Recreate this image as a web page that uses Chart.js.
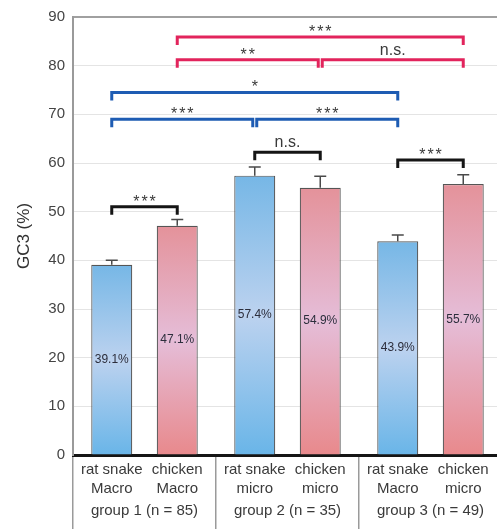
<!DOCTYPE html>
<html>
<head>
<meta charset="utf-8">
<script src="https://cdn.jsdelivr.net/npm/chart.js@4.4.1/dist/chart.umd.min.js"></script>
<style>
  body { margin: 0; background: #fff; }
  #wrap { width: 497px; height: 529px; overflow: hidden; }
</style>
</head>
<body>
<div id="wrap"><canvas id="chart" width="502" height="529"></canvas></div>
<script>
// data
const groups = ['group 1 (n = 85)', 'group 2 (n = 35)', 'group 3 (n = 49)'];
const species = ['rat snake', 'chicken'];
const chromosomes = [['Macro', 'Macro'], ['micro', 'micro'], ['Macro', 'micro']];
const ratSnakeGC3 = [39.1, 57.4, 43.9];
const chickenGC3 = [47.1, 54.9, 55.7];
const ratSnakeErr = [0.9, 1.8, 1.3];
const chickenErr = [1.3, 2.4, 1.9];

// significance brackets, bars numbered 0..5 from left to right
const bracketFrom = [0, 2, 4, 0, 2, 0, 1, 3, 1];
const bracketTo = [1, 3, 5, 2, 4, 4, 3, 5, 5];
const bracketLevel = [51.0, 62.2, 60.6, 69.0, 69.0, 74.5, 81.2, 81.2, 85.9];
const bracketText = ['***', 'n.s.', '***', '***', '***', '*', '**', 'n.s.', '***'];
const bracketKind = ['pair', 'pair', 'pair', 'snake', 'snake', 'snake', 'chicken', 'chicken', 'chicken'];

const bracketColors = { pair: '#151515', snake: '#1e5cb3', chicken: '#e2245c' };
const FONT = '"Liberation Sans", Arial, sans-serif';
const errors = [ratSnakeErr, chickenErr];

function barFill(stops) {
  return (c) => {
    const chart = c.chart;
    if (!chart.chartArea || c.type !== 'data') return stops[0];
    const y = chart.scales.y;
    const top = y.getPixelForValue(c.parsed.y);
    const bottom = y.getPixelForValue(0);
    const g = chart.ctx.createLinearGradient(0, top, 0, bottom);
    g.addColorStop(0, stops[0]);
    g.addColorStop(0.5, stops[1]);
    g.addColorStop(1, stops[2]);
    return g;
  };
}

const annotate = {
  id: 'annotate',
  afterDatasetsDraw(chart) {
    const ctx = chart.ctx;
    const y = chart.scales.y;
    const barAt = k => chart.getDatasetMeta(k % 2).data[Math.floor(k / 2)];
    ctx.save();

    // error bars + value labels
    chart.data.datasets.forEach((ds, d) => {
      chart.getDatasetMeta(d).data.forEach((bar, i) => {
        const yTop = y.getPixelForValue(ds.data[i] + errors[d][i]);
        ctx.strokeStyle = '#4a4a4a';
        ctx.lineWidth = 1.5;
        ctx.beginPath();
        ctx.moveTo(bar.x, bar.y);
        ctx.lineTo(bar.x, yTop);
        ctx.moveTo(bar.x - 6, yTop);
        ctx.lineTo(bar.x + 6, yTop);
        ctx.stroke();

        ctx.fillStyle = '#2c2e3c';
        ctx.font = '12px ' + FONT;
        ctx.textAlign = 'center';
        ctx.textBaseline = 'middle';
        ctx.fillText(ds.data[i].toFixed(1) + '%', bar.x, (bar.y + bar.base) / 2);
      });
    });

    // brackets
    bracketFrom.forEach((from, b) => {
      const to = bracketTo[b];
      let x1 = barAt(from).x, x2 = barAt(to).x;
      bracketFrom.forEach((f2, o) => {
        if (o === b || bracketLevel[o] !== bracketLevel[b]) return;
        if (bracketTo[o] === from) x1 += 2;
        if (f2 === to) x2 -= 2;
      });
      const ly = y.getPixelForValue(bracketLevel[b]);
      ctx.strokeStyle = bracketColors[bracketKind[b]];
      ctx.lineWidth = 3;
      ctx.lineJoin = 'miter';
      ctx.beginPath();
      ctx.moveTo(x1, ly + 8);
      ctx.lineTo(x1, ly);
      ctx.lineTo(x2, ly);
      ctx.lineTo(x2, ly + 8);
      ctx.stroke();

      const txt = bracketText[b];
      ctx.fillStyle = '#3a3a3a';
      ctx.textAlign = 'center';
      ctx.textBaseline = 'alphabetic';
      if (txt === 'n.s.') {
        ctx.font = '16px ' + FONT;
        ctx.letterSpacing = '0px';
        ctx.fillText(txt, (x1 + x2) / 2, ly - 5);
      } else {
        ctx.font = '16px ' + FONT;
        ctx.letterSpacing = '2px';
        ctx.fillText(txt, (x1 + x2) / 2 + 1, ly);
      }
    });
    ctx.restore();
  },
  afterDraw(chart) {
    const ctx = chart.ctx;
    const x = chart.scales.x;
    ctx.save();
    ctx.fillStyle = '#3a3a3a';
    ctx.font = '15px ' + FONT;
    ctx.textAlign = 'center';
    ctx.textBaseline = 'middle';
    groups.forEach((g, i) => {
      species.forEach((s, d) => {
        const bar = chart.getDatasetMeta(d).data[i];
        ctx.fillText(s, bar.x, 470);
        ctx.fillText(chromosomes[i][d], bar.x, 489);
      });
      ctx.fillText(g, x.getPixelForValue(i), 511);
    });
    ctx.restore();
  }
};

new Chart(document.querySelector('#chart'), {
  type: 'bar',
  data: {
    labels: groups,
    datasets: [
      {
        label: species[0],
        data: ratSnakeGC3,
        backgroundColor: barFill(['#76b7e6', '#bcd2ef', '#69b5e8']),
        borderColor: '#555',
        borderWidth: 1.2,
        categoryPercentage: 0.916,
        barPercentage: 0.626
      },
      {
        label: species[1],
        data: chickenGC3,
        backgroundColor: barFill(['#e4929a', '#e5bdd8', '#e8898c']),
        borderColor: '#555',
        borderWidth: 1.2,
        categoryPercentage: 0.916,
        barPercentage: 0.626
      }
    ]
  },
  options: {
    responsive: false,
    animation: false,
    layout: { padding: { top: 14, left: 0, right: 0, bottom: 0 } },
    plugins: {
      legend: { display: false },
      tooltip: { enabled: false }
    },
    scales: {
      x: {
        z: 1,
        ticks: { display: false },
        grid: {
          offset: true,
          drawOnChartArea: false,
          drawTicks: true,
          tickLength: 74,
          color: '#9a9a9a',
          lineWidth: 1.5
        },
        border: { display: true, color: '#151515', width: 3 }
      },
      y: {
        min: 0,
        max: 90,
        afterFit: (scale) => { scale.width = 73; },
        ticks: {
          stepSize: 10,
          padding: 8,
          color: '#444',
          font: { family: FONT, size: 15 }
        },
        grid: {
          drawTicks: false,
          color: (c) => c.tick && c.tick.value === 90 ? '#a0a0a0' : '#e4e4e4',
          lineWidth: (c) => c.tick && c.tick.value === 90 ? 2 : 1
        },
        border: { display: true, color: '#9a9a9a', width: 2 },
        title: {
          display: true,
          text: 'GC3 (%)',
          color: '#333',
          font: { family: FONT, size: 17 },
          padding: { top: 14, bottom: 0 }
        }
      }
    }
  },
  plugins: [annotate]
});
</script>
</body>
</html>
